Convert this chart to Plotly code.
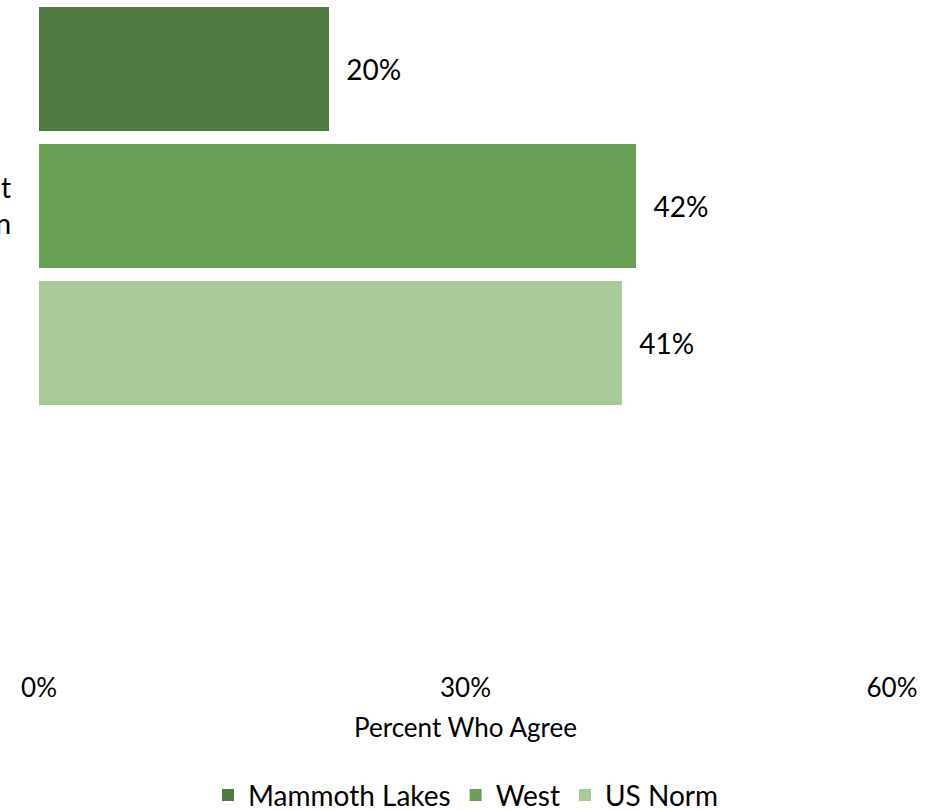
import plotly.graph_objects as go

categories = ["Local businesses here are doing well right<br>now compared with the rest of the nation"]
series_names = ["Mammoth Lakes", "West", "US Norm"]
series_values = [[20.4], [42.0], [41.0]]
series_colors = ["#517B41", "#6AA056", "#A8CA96"]
x_ticks = [0, 30, 60]
x_tick_labels = ["0%", "30%", "60%"]

FONT = "Lato, Carlito, Open Sans, sans-serif"

fig = go.Figure()
for name, vals, col in zip(series_names, series_values, series_colors):
    fig.add_trace(go.Bar(
        y=categories, x=vals, name=name, orientation="h",
        marker=dict(color=col, line=dict(width=0)),
        texttemplate="  %{x:.0f}%", textposition="outside",
        textfont=dict(family=FONT, size=28, color="#000000"),
        cliponaxis=False,
    ))

fig.update_layout(
    width=946, height=810,
    margin=dict(l=39, r=54, t=0, b=140),
    paper_bgcolor="white", plot_bgcolor="white",
    barmode="group", bargap=0.178, bargroupgap=0.095,
    font=dict(family=FONT, color="#000000"),
    showlegend=True,
    legend=dict(orientation="h", x=0.5, xanchor="center",
                yref="container", y=0.018, yanchor="middle",
                font=dict(family=FONT, size=28, color="#000000"),
                traceorder="normal"),
    xaxis=dict(range=[0, 60], tickvals=x_ticks, ticktext=x_tick_labels,
               showgrid=False, zeroline=False, showline=False, ticks="",
               tickfont=dict(family=FONT, size=26, color="#000000"),
               title=dict(text="Percent Who Agree", standoff=16,
                          font=dict(family=FONT, size=26, color="#000000"))),
    yaxis=dict(type="category", range=[0.928, -0.412], showgrid=False,
               zeroline=False, showline=False, ticks="",
               tickfont=dict(family=FONT, size=28, color="#000000"),
               ticklabelstandoff=27, automargin=False),
)

fig.write_html("out.html")
